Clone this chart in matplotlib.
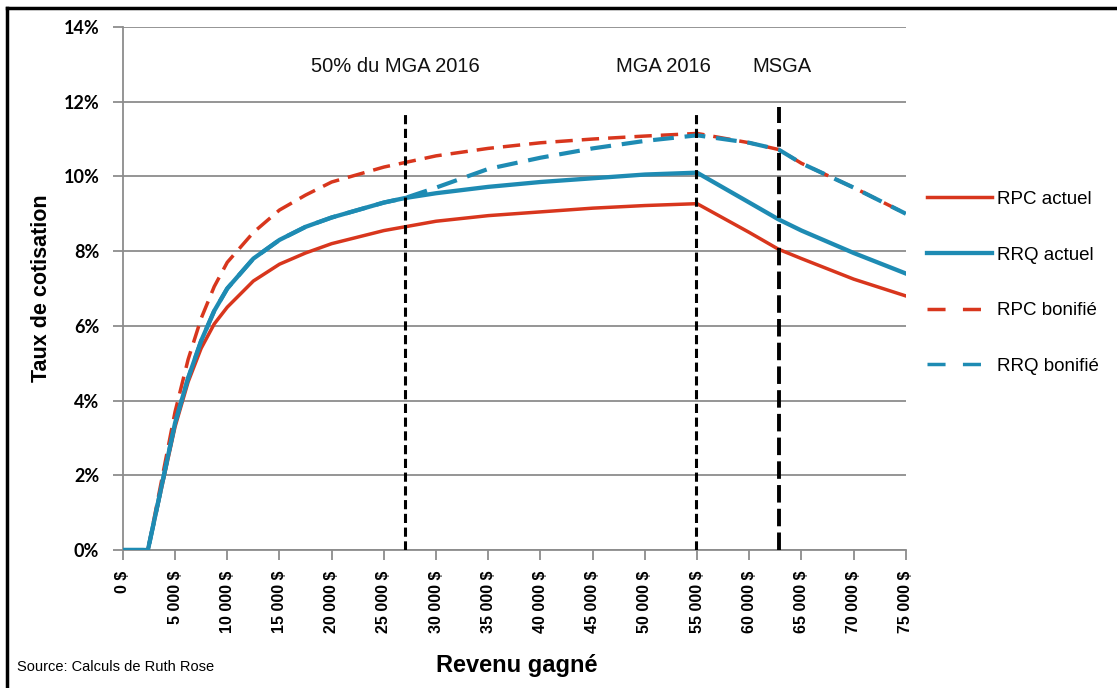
import matplotlib
matplotlib.use("Agg")
import matplotlib.pyplot as plt
from matplotlib.lines import Line2D
from matplotlib import font_manager

# revenue points (in $)
revenu = [0, 2400, 5000, 6250, 7500, 8750, 10000, 12500, 15000, 17500, 20000,
          25000, 27000, 30000, 35000, 40000, 45000, 50000, 55000, 60000,
          62800, 65000, 70000, 75000]

# contribution rates (%)
rpc_actuel = [0, 0, 3.3, 4.5, 5.4, 6.05, 6.5, 7.2, 7.65, 7.95, 8.2,
              8.55, 8.65, 8.8, 8.95, 9.05, 9.15, 9.22, 9.27, 8.5,
              8.05, 7.8, 7.25, 6.8]
rrq_actuel = [0, 0, 3.4, 4.6, 5.6, 6.4, 7.0, 7.8, 8.3, 8.65, 8.9,
              9.3, 9.42, 9.55, 9.72, 9.85, 9.95, 10.05, 10.1, 9.3,
              8.85, 8.55, 7.95, 7.4]
rpc_bonifie = [0, 0, 3.7, 5.1, 6.2, 7.05, 7.7, 8.5, 9.1, 9.5, 9.85,
               10.25, 10.37, 10.55, 10.75, 10.9, 11.0, 11.08, 11.15, 10.9,
               10.72, 10.35, 9.7, 9.0]
rrq_bonifie = [0, 0, 3.4, 4.6, 5.6, 6.4, 7.0, 7.8, 8.3, 8.65, 8.9,
               9.3, 9.42, 9.7, 10.2, 10.5, 10.75, 10.95, 11.1, 10.9,
               10.72, 10.35, 9.7, 9.0]

xticks = list(range(0, 75001, 5000))
xtick_labels = ["0 $"] + [f"{v // 1000} 000 $" for v in xticks[1:]]
yticks = [0, 2, 4, 6, 8, 10, 12, 14]

repere_x = [27000, 54900, 62800]
repere_noms = ["50% du MGA 2016", "MGA 2016", "MSGA"]

names = {f.name for f in font_manager.fontManager.ttflist}
narrow = "Liberation Sans Narrow" if "Liberation Sans Narrow" in names else "Liberation Sans"

red = "#D8361D"
blue = "#1E8BB3"

fig = plt.figure(figsize=(11.17, 6.88), dpi=100)
ax = fig.add_axes([0.110, 0.2006, 0.701, 0.7602])

lw = 2.5
ax.plot(revenu, rpc_bonifie, color=red, lw=lw, dashes=(5, 2.6), zorder=3)
ax.plot(revenu, rpc_actuel, color=red, lw=lw, zorder=4)
ax.plot(revenu, rrq_actuel, color=blue, lw=lw + 0.6, zorder=5)
ax.plot(revenu, rrq_bonifie, color=blue, lw=lw + 0.5, dashes=(5, 2.6), zorder=6)

# vertical reference lines
ax.plot([repere_x[0], repere_x[0]], [0, 11.7], color="black", lw=2.2,
        dashes=(3, 1.5), zorder=7)
ax.plot([repere_x[1], repere_x[1]], [0, 11.7], color="black", lw=2.2,
        dashes=(3, 1.5), zorder=7)
ax.plot([repere_x[2], repere_x[2]], [0, 11.85], color="black", lw=2.8,
        dashes=(4.5, 1.6), zorder=7)

label_pos = [26100, 51800, 63100]
for xp, nom in zip(label_pos, repere_noms):
    ax.text(xp, 12.95, nom, ha="center", va="center", fontsize=14.5,
            family=narrow, color="#111111")

ax.set_xlim(0, 75000)
ax.set_ylim(0, 14)
ax.set_yticks(yticks)
ax.set_yticklabels([f"{v}%" for v in yticks], fontsize=13, fontweight="bold",
                   family="Lato")
ax.set_xticks(xticks)
ax.set_xticklabels(xtick_labels, rotation=90, fontsize=11.5, fontweight="bold",
                   family=narrow)
ax.grid(axis="y", color="#8c8c8c", lw=1.3)
ax.set_axisbelow(True)
for s in ["top", "right"]:
    ax.spines[s].set_visible(False)
ax.spines["left"].set_color("#8c8c8c")
ax.spines["bottom"].set_color("#8c8c8c")
ax.spines["left"].set_linewidth(1.3)
ax.spines["bottom"].set_linewidth(1.3)
ax.tick_params(axis="both", color="#8c8c8c", width=1.3, length=7)
ax.tick_params(axis="y", pad=10)
ax.tick_params(axis="x", pad=8)

ax.set_ylabel("Taux de cotisation", fontsize=15.5, fontweight="bold",
              family=narrow, labelpad=8)
fig.text(0.463, 0.032, "Revenu gagné", ha="center", va="center",
         fontsize=17, fontweight="bold", family="Liberation Sans")
fig.text(0.015, 0.031, "Source: Calculs de Ruth Rose", ha="left", va="center",
         fontsize=10.5, family="Liberation Sans")

handles = [
    Line2D([], [], color=red, lw=lw),
    Line2D([], [], color=blue, lw=lw + 0.6),
    Line2D([], [], color=red, lw=lw, dashes=(5.2, 5.0)),
    Line2D([], [], color=blue, lw=lw, dashes=(5.2, 5.0)),
]
leg = fig.legend(handles, ["RPC actuel", "RRQ actuel", "RPC bonifié", "RRQ bonifié"],
                 loc="center left", bbox_to_anchor=(0.815, 0.589), frameon=False,
                 prop={"family": narrow, "size": 13.5}, handlelength=3.45,
                 handletextpad=0.25, labelspacing=2.05)

# figure frame (top and left only)
fig.add_artist(Line2D([7 / 1117, 1], [1 - 8 / 688, 1 - 8 / 688],
                      transform=fig.transFigure, color="black", lw=2.5))
fig.add_artist(Line2D([7 / 1117, 7 / 1117], [0, 1 - 8 / 688],
                      transform=fig.transFigure, color="black", lw=2.5))

fig.savefig("out.png", dpi=100)
